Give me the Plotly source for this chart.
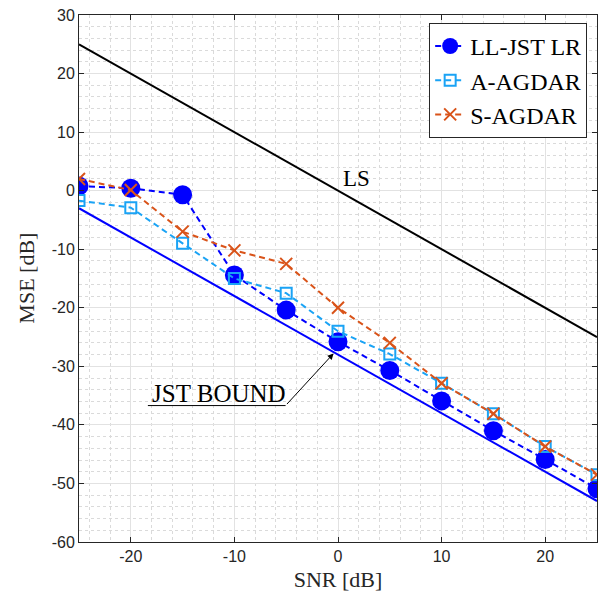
import plotly.graph_objects as go

# SNR grid (dB)
snr_db = [-25, -20, -15, -10, -5, 0, 5, 10, 15, 20, 25]

# MSE (dB) of each estimator
mse_ll_jst_lr = [0.8, 0.4, -0.7, -14.4, -20.4, -25.8, -30.7, -35.9, -41.0, -45.9, -50.9]
mse_a_agdar = [-1.7, -2.9, -9.0, -15.0, -17.5, -24.0, -27.9, -32.9, -38.1, -43.7, -48.5]
mse_s_agdar = [2.0, 0.1, -7.0, -10.2, -12.5, -20.0, -26.0, -32.9, -38.1, -43.7, -48.5]

# Reference curves
ref_snr = [-25, 25]
mse_ls = [25, -25]
mse_jst_bound = [-3, -53]

x_ticks = [-20, -10, 0, 10, 20]
x_tick_labels = ["-20", "-10", "0", "10", "20"]
y_ticks = [-60, -50, -40, -30, -20, -10, 0, 10, 20, 30]
y_tick_labels = ["-60", "-50", "-40", "-30", "-20", "-10", "0", "10", "20", "30"]

SERIF = "Liberation Serif"
SANS = "Liberation Sans"
AXIS_COLOR = "#262626"
MINOR_GRID = dict(gridcolor="#dadada", griddash="dot", gridwidth=1)

fig = go.Figure()

fig.add_trace(go.Scatter(
    x=ref_snr, y=mse_ls, mode="lines", showlegend=False,
    line=dict(color="black", width=2),
))
fig.add_trace(go.Scatter(
    x=ref_snr, y=mse_jst_bound, mode="lines", showlegend=False,
    line=dict(color="#0000ff", width=2),
))

fig.add_trace(go.Scatter(
    x=snr_db, y=mse_ll_jst_lr, mode="lines+markers", name="LL-JST LR",
    line=dict(color="#0000ff", width=2, dash="6px,4px"),
    marker=dict(symbol="circle", size=19, color="#0000ff"),
))
fig.add_trace(go.Scatter(
    x=snr_db, y=mse_a_agdar, mode="lines+markers", name="A-AGDAR",
    line=dict(color="#1aa3f5", width=2, dash="6px,4px"),
    marker=dict(symbol="square-open", size=11, color="#1aa3f5",
                line=dict(width=2, color="#1aa3f5")),
))
fig.add_trace(go.Scatter(
    x=snr_db, y=mse_s_agdar, mode="lines+markers", name="S-AGDAR",
    line=dict(color="#d95319", width=2, dash="6px,4px"),
    marker=dict(symbol="x-thin-open", size=12, color="#d95319",
                line=dict(width=2, color="#d95319")),
))

# Text labels for the reference curves
fig.add_annotation(x=1.78, y=2.0, xref="x", yref="y", text="LS", showarrow=False,
                   font=dict(family=SERIF, size=23, color="black"))

fig.add_annotation(x=-11.5, y=-34.7, xref="x", yref="y", text="JST BOUND",
                   showarrow=False, yanchor="middle",
                   font=dict(family=SERIF, size=25, color="black"))
fig.add_shape(type="line", xref="x", yref="y", x0=-18.35, y0=-36.7, x1=-5.06, y1=-36.7,
              line=dict(color="black", width=1))
fig.add_annotation(x=-0.43, y=-27.8, ax=-5.06, ay=-36.7, xref="x", yref="y",
                   axref="x", ayref="y", text="", showarrow=True,
                   arrowhead=2, arrowsize=1.2, arrowwidth=1, arrowcolor="black")

# Vertical axis title
fig.add_annotation(x=-0.102, y=0.5, xref="paper", yref="paper", text="MSE [dB]",
                   showarrow=False, xanchor="center", yanchor="middle", textangle=-90,
                   font=dict(family=SERIF, size=22, color=AXIS_COLOR))

frame = dict(
    showline=True, linecolor=AXIS_COLOR, linewidth=1, mirror="ticks",
    ticks="inside", ticklen=5, tickcolor=AXIS_COLOR, tickwidth=1,
    showgrid=True, gridcolor="#e2e2e2", gridwidth=1, zeroline=False,
    tickfont=dict(family=SANS, size=16, color=AXIS_COLOR),
    minor=dict(dtick=2, showgrid=True, ticks="", **MINOR_GRID),
)

fig.update_xaxes(
    range=[-25, 25], tickvals=x_ticks, ticktext=x_tick_labels,
    title=dict(text="SNR [dB]", standoff=7,
               font=dict(family=SERIF, size=22, color=AXIS_COLOR)),
    **frame,
)
fig.update_yaxes(
    range=[-60, 30], tickvals=y_ticks, ticktext=y_tick_labels,
    **frame,
)

fig.update_layout(
    width=605, height=601,
    margin=dict(l=79, r=7, t=13, b=59),
    paper_bgcolor="white", plot_bgcolor="white",
    legend=dict(
        x=0.981, y=0.985, xanchor="right", yanchor="top",
        bgcolor="white", bordercolor=AXIS_COLOR, borderwidth=1,
        font=dict(family=SERIF, size=24, color="black"),
        tracegroupgap=0,
    ),
)

fig.write_html("out.html")
